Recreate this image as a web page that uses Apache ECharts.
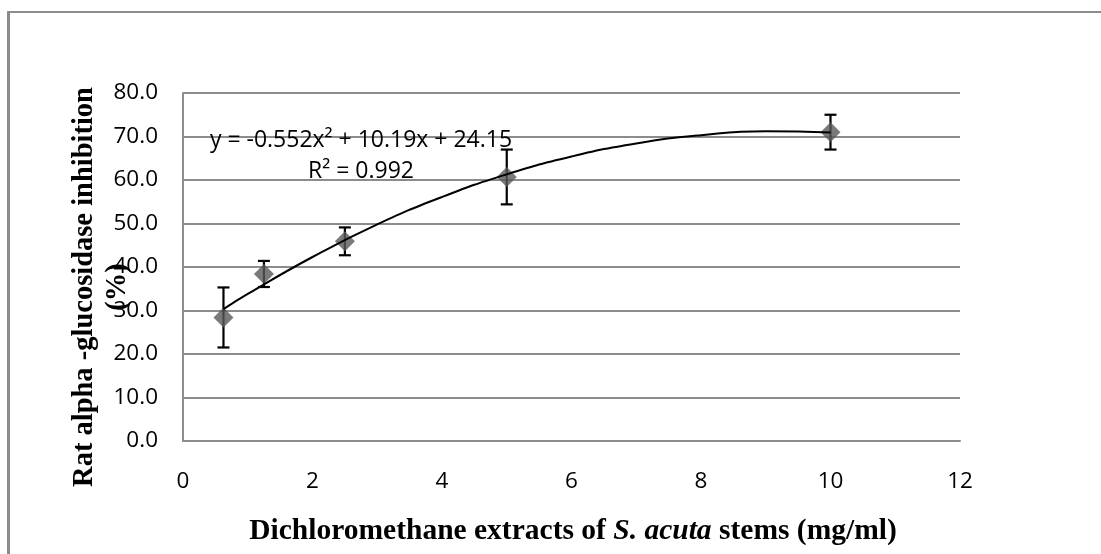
<!DOCTYPE html>
<html>
<head>
<meta charset="utf-8">
<script src="https://cdn.jsdelivr.net/npm/echarts@6/dist/echarts.min.js"></script>
<style>html,body{margin:0;padding:0;background:#fff;}#chart{width:1101px;height:554px;}</style>
</head>
<body>
<div id="chart"></div>
<script>
// Data
const concentrations = [0.625, 1.25, 2.5, 5, 10];
const inhibition = [28.4, 38.4, 45.9, 60.7, 71.0];
const errorSD = [6.9, 3.0, 3.2, 6.3, 4.0];
// Polynomial trendline (order 2)
const trendX = [0.625, 1, 2, 3, 4, 5, 6, 7, 8, 9, 10];
const trendY = [30.3, 33.8, 42.3, 49.8, 56.1, 61.3, 65.4, 68.4, 70.3, 71.2, 70.9];
const xTicks = [0, 2, 4, 6, 8, 10, 12];
const yTicks = ['0.0','10.0','20.0','30.0','40.0','50.0','60.0','70.0','80.0'];
const equationText = 'y = -0.552x\u00B2 + 10.19x + 24.15';
const r2Text = 'R\u00B2 = 0.992';

const chart = echarts.init(document.getElementById('chart'), null, {renderer: 'canvas'});
const labelFont = '"Open Sans", "Liberation Sans", sans-serif';
const titleFont = '"Liberation Serif", "Times New Roman", serif';
const gridColor = '#8c8c8c';

const option = {
  animation: false,
  backgroundColor: '#ffffff',
  grid: {left: 183, right: 141, top: 93, bottom: 113, containLabel: false},
  xAxis: {
    type: 'value', min: xTicks[0], max: xTicks[xTicks.length - 1], interval: 2,
    axisLine: {show: true, lineStyle: {color: gridColor, width: 2}},
    axisTick: {show: false},
    splitLine: {show: false},
    axisLabel: {color: '#000', fontFamily: labelFont, fontSize: 22.5, margin: 29}
  },
  yAxis: {
    type: 'value', min: 0, max: 80, interval: 10,
    axisLine: {show: true, lineStyle: {color: gridColor, width: 2}},
    axisTick: {show: false},
    splitLine: {show: true, lineStyle: {color: gridColor, width: 2}},
    axisLabel: {
      color: '#000', fontFamily: labelFont, fontSize: 22.5, margin: 25,
      formatter: (v) => yTicks[Math.round(v / 10)]
    }
  },
  graphic: [
    {type: 'line', shape: {x1: 8.5, y1: 11, x2: 8.5, y2: 560}, style: {stroke: '#8c8c8c', lineWidth: 3}, z: 0},
    {type: 'line', shape: {x1: 7, y1: 12, x2: 1110, y2: 12}, style: {stroke: '#8c8c8c', lineWidth: 2}, z: 0},
    {
      type: 'text', x: 361, y: 156, z: 100,
      style: {
        text: equationText + '\n' + r2Text,
        font: '23px ' + labelFont, fill: '#000',
        textAlign: 'center', textVerticalAlign: 'middle', lineHeight: 31
      }
    },
    {
      type: 'text', x: 101, y: 287, rotation: Math.PI / 2, z: 100,
      style: {
        text: 'Rat alpha -glucosidase inhibition\n(%)',
        font: 'bold 28.5px ' + titleFont, fill: '#000',
        textAlign: 'center', textVerticalAlign: 'middle', lineHeight: 33
      }
    },
    {
      type: 'text', x: 573, y: 531, z: 100,
      style: {
        rich: {
          b: {font: 'bold 29.5px ' + titleFont, fill: '#000'},
          i: {font: 'bold italic 29.5px ' + titleFont, fill: '#000'}
        },
        text: '{b|Dichloromethane extracts of }{i|S. acuta}{b| stems (mg/ml)}',
        textAlign: 'center', textVerticalAlign: 'middle'
      }
    }
  ],
  series: [
    {
      type: 'custom', z: 3,
      renderItem: function (params, api) {
        const x = api.value(0);
        const lo = api.coord([x, api.value(1)]);
        const hi = api.coord([x, api.value(2)]);
        const w = 6;
        const st = {stroke: '#000', lineWidth: 2.2};
        return {
          type: 'group',
          children: [
            {type: 'line', shape: {x1: hi[0], y1: hi[1], x2: lo[0], y2: lo[1]}, style: st},
            {type: 'line', shape: {x1: hi[0] - w, y1: hi[1], x2: hi[0] + w, y2: hi[1]}, style: st},
            {type: 'line', shape: {x1: lo[0] - w, y1: lo[1], x2: lo[0] + w, y2: lo[1]}, style: st}
          ]
        };
      },
      data: concentrations.map((c, i) => [c, inhibition[i] - errorSD[i], inhibition[i] + errorSD[i]])
    },
    {
      type: 'scatter', z: 4,
      symbol: 'diamond', symbolSize: 20,
      itemStyle: {color: '#595959'},
      data: concentrations.map((c, i) => [c, inhibition[i]])
    },
    {
      type: 'line', z: 5, smooth: true, showSymbol: false, symbol: 'none',
      lineStyle: {color: '#000', width: 2},
      data: trendX.map((x, i) => [x, trendY[i]])
    }
  ]
};
chart.setOption(option);
</script>
</body>
</html>
